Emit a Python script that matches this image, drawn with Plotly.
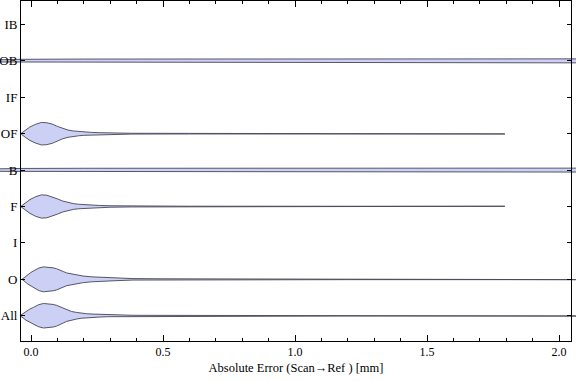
import plotly.graph_objects as go

# ---- data ----
categories = ["All", "O", "I", "F", "B", "OF", "IF", "OB", "IB"]

# profile grid (mm) and half-widths (category units) of each distribution
all_x = [-0.042, -0.03, -0.019, -0.005, 0.009, 0.028, 0.047, 0.065, 0.084, 0.097, 0.11, 0.122,
         0.135, 0.153, 0.173, 0.19, 0.211, 0.235, 0.261, 0.29, 0.326, 0.386, 0.5, 0.64, 1.2, 2.07]
all_w = [0.0, 0.06, 0.123, 0.18, 0.228, 0.3, 0.337, 0.33, 0.31, 0.285, 0.247, 0.2,
         0.156, 0.118, 0.09, 0.07, 0.055, 0.045, 0.036, 0.027, 0.019, 0.012, 0.01, 0.009, 0.008, 0.008]

o_x = [-0.034, -0.023, -0.012, 0.0, 0.012, 0.03, 0.047, 0.065, 0.084, 0.097, 0.11, 0.122,
       0.135, 0.165, 0.198, 0.23, 0.261, 0.29, 0.326, 0.386, 0.5, 0.64, 1.2, 2.07]
o_w = [0.0, 0.065, 0.13, 0.19, 0.24, 0.31, 0.342, 0.335, 0.315, 0.29, 0.26, 0.215,
       0.175, 0.125, 0.09, 0.068, 0.055, 0.045, 0.036, 0.02, 0.014, 0.012, 0.009, 0.009]

f_x = [-0.039, -0.022, -0.004, 0.018, 0.04, 0.06, 0.08, 0.1, 0.12, 0.14, 0.16, 0.18,
       0.2, 0.23, 0.26, 0.3, 0.38, 0.6, 1.2, 1.795]
f_w = [0.0, 0.1, 0.19, 0.27, 0.32, 0.31, 0.27, 0.21, 0.15, 0.11, 0.08, 0.062,
       0.05, 0.037, 0.028, 0.02, 0.012, 0.008, 0.007, 0.007]

of_x = [-0.039, -0.022, -0.004, 0.018, 0.04, 0.06, 0.08, 0.1, 0.12, 0.14, 0.16, 0.18,
        0.2, 0.23, 0.26, 0.3, 0.38, 0.6, 1.2, 1.795]
of_w = [0.0, 0.097, 0.185, 0.26, 0.31, 0.3, 0.265, 0.2, 0.14, 0.1, 0.075, 0.058,
        0.045, 0.035, 0.027, 0.019, 0.011, 0.008, 0.007, 0.007]

b_x = [-0.12, -0.04, 0.2, 1.0, 2.07]
b_w = [0.035, 0.045, 0.05, 0.052, 0.054]

ob_x = [-0.12, -0.04, 0.2, 1.0, 2.07]
ob_w = [0.03, 0.043, 0.05, 0.052, 0.055]

series = {
    "All": (all_x, all_w),
    "O": (o_x, o_w),
    "F": (f_x, f_w),
    "B": (b_x, b_w),
    "OF": (of_x, of_w),
    "OB": (ob_x, ob_w),
}

x_tick_vals = [0.0, 0.5, 1.0, 1.5, 2.0]
x_tick_text = ["0.0", "0.5", "1.0", "1.5", "2.0"]
x_title = "Absolute Error (Scan\u2192Ref ) [mm]"

# ---- figure ----
W, H = 576, 381
FILL = "rgb(204,208,244)"
EDGE = "rgba(70,70,85,0.9)"
SERIF = "Liberation Serif, Times New Roman, serif"

fig = go.Figure()

# distributions on the full-width (unclipped-looking) data axes x/y
for name, (xs, ws) in series.items():
    c = categories.index(name)
    px = list(xs) + list(reversed(xs))
    py = [c + w for w in ws] + [c - w for w in reversed(ws)]
    fig.add_trace(go.Scatter(
        x=px, y=py, xaxis="x", yaxis="y", mode="lines",
        line=dict(color=EDGE, width=1, shape="linear"),
        fill="toself", fillcolor=FILL, showlegend=False, hoverinfo="skip"))

# frame subplot (axes only), drawn above the data subplot
fig.add_trace(go.Scatter(x=[], y=[], xaxis="x2", yaxis="y2", showlegend=False, hoverinfo="skip"))

left_px, right_px, bottom_px = 21, 571, 341
x0_px, px_per_unit = 31, 264.0
ylo, yhi = -0.694, 8.658

fig.update_layout(
    width=W, height=H,
    margin=dict(l=0, r=0, t=0, b=0, autoexpand=False),
    paper_bgcolor="white", plot_bgcolor="rgba(0,0,0,0)",
    font=dict(family=SERIF, size=13, color="black"),
    showlegend=False,
    xaxis=dict(
        domain=[0, 1], anchor="y", automargin=False,
        range=[(0 - x0_px) / px_per_unit, (W - x0_px) / px_per_unit],
        visible=False, showgrid=False, zeroline=False,
    ),
    yaxis=dict(
        domain=[1 - bottom_px / H, 1 - 0.5 / H], anchor="x", automargin=False,
        range=[ylo, yhi],
        visible=False, showgrid=False, zeroline=False,
    ),
    xaxis2=dict(
        domain=[left_px / W, right_px / W], anchor="y2", automargin=False,
        range=[(left_px - x0_px) / px_per_unit, (right_px - x0_px) / px_per_unit],
        tickmode="array", tickvals=x_tick_vals, ticktext=x_tick_text,
        ticks="inside", ticklen=6, tickcolor="black", tickwidth=1,
        showline=True, linecolor="black", linewidth=1, mirror="ticks",
        showgrid=False, zeroline=False,
        tickfont=dict(family=SERIF, size=12, color="black"),
        minor=dict(dtick=0.1, tick0=0, ticks="inside", ticklen=3.5,
                   tickcolor="black", tickwidth=1, showgrid=False),
        title=dict(text=x_title, font=dict(family=SERIF, size=12.5, color="black"), standoff=4),
    ),
    yaxis2=dict(
        domain=[1 - bottom_px / H, 1 - 0.5 / H], anchor="x2", automargin=False,
        range=[ylo, yhi],
        tickmode="array", tickvals=list(range(len(categories))), ticktext=categories,
        ticks="inside", ticklen=4, tickcolor="black", tickwidth=1,
        showline=True, linecolor="black", linewidth=1, mirror="ticks",
        showgrid=False, zeroline=False,
        tickfont=dict(family=SERIF, size=13, color="black"),
    ),
)

fig.write_html(
    "out.html",
    config={"displayModeBar": False},
    post_script="document.body.style.margin='0';document.body.style.padding='0';",
)
